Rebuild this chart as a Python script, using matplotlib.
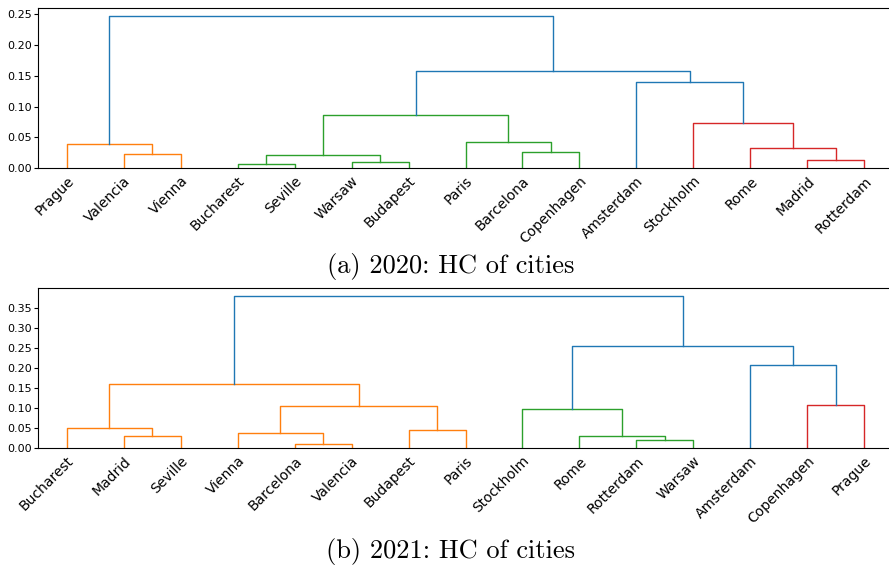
import matplotlib
matplotlib.use("Agg")
import matplotlib.pyplot as plt
from matplotlib.ticker import MultipleLocator, FormatStrFormatter

plt.rcParams["axes.formatter.use_mathtext"] = True

# 2020 clustering: leaves in plotted order, merges as linkage rows
# (child ids: leaf i, or n + k for the k-th merge)
cities_2020 = ["Prague", "Valencia", "Vienna", "Bucharest", "Seville",
               "Warsaw", "Budapest", "Paris", "Barcelona", "Copenhagen",
               "Amsterdam", "Stockholm", "Rome", "Madrid", "Rotterdam"]
left_2020 = [3, 5, 13, 15, 1, 8, 12, 0, 7, 11, 18, 10, 25, 22]
right_2020 = [4, 6, 14, 16, 2, 9, 17, 19, 20, 21, 23, 24, 26, 27]
height_2020 = [0.0069, 0.0097, 0.0139, 0.0215, 0.0236, 0.0258, 0.0327,
               0.0397, 0.0419, 0.0726, 0.0860, 0.1390, 0.1580, 0.2467]

# 2021 clustering
cities_2021 = ["Bucharest", "Madrid", "Seville", "Vienna", "Barcelona",
               "Valencia", "Budapest", "Paris", "Stockholm", "Rome",
               "Rotterdam", "Warsaw", "Amsterdam", "Copenhagen", "Prague"]
left_2021 = [4, 10, 1, 9, 3, 6, 0, 8, 19, 13, 21, 12, 22, 25]
right_2021 = [5, 11, 2, 16, 15, 7, 17, 18, 20, 14, 23, 24, 26, 27]
height_2021 = [0.0100, 0.0199, 0.0299, 0.0299, 0.0373, 0.0464, 0.0506,
               0.0995, 0.1053, 0.1086, 0.1600, 0.2090, 0.2554, 0.3806]

CLUSTER_COLORS = ["C1", "C2", "C3", "C4", "C5", "C6", "C7", "C8", "C9"]


def draw_dendrogram(ax, labels, left, right, height, threshold):
    n = len(labels)
    xpos = {i: 5.0 + 10.0 * i for i in range(n)}
    hpos = {i: 0.0 for i in range(n)}
    children = {}
    for k, (a, b, h) in enumerate(zip(left, right, height)):
        node = n + k
        children[node] = (a, b)
        xpos[node] = (xpos[a] + xpos[b]) / 2.0
        hpos[node] = h

    # colour links below the threshold by cluster, left to right
    colors = {}
    counter = [0]

    def paint(node, color):
        if node < n:
            return
        colors[node] = color
        for c in children[node]:
            paint(c, color)

    def walk(node):
        if node < n:
            return
        if hpos[node] < threshold:
            paint(node, CLUSTER_COLORS[counter[0] % len(CLUSTER_COLORS)])
            counter[0] += 1
        else:
            colors[node] = "C0"
            for c in children[node]:
                walk(c)

    root = n + len(height) - 1
    walk(root)

    for node, (a, b) in children.items():
        ax.plot([xpos[a], xpos[a], xpos[b], xpos[b]],
                [hpos[a], hpos[node], hpos[node], hpos[b]],
                color=colors[node], lw=1.0)

    ax.set_xlim(0, 10 * n)
    ax.set_ylim(0, 1.05 * max(height))
    ax.set_xticks([xpos[i] for i in range(n)])
    ax.set_xticklabels(labels, rotation=45, ha="right",
                       rotation_mode="anchor", fontsize=10)
    ax.tick_params(axis="x", length=0, pad=4)
    ax.yaxis.set_major_locator(MultipleLocator(0.05))
    ax.yaxis.set_major_formatter(FormatStrFormatter("%.2f"))
    ax.tick_params(axis="y", labelsize=8, length=2.8, pad=1.5)


fig = plt.figure(figsize=(8.89, 5.66), dpi=100)
ax_a = fig.add_axes([0.0430, 0.7026, 0.9613, 0.2827])
ax_b = fig.add_axes([0.0430, 0.2078, 0.9613, 0.2829])

draw_dendrogram(ax_a, cities_2020, left_2020, right_2020, height_2020, 0.12)
draw_dendrogram(ax_b, cities_2021, left_2021, right_2021, height_2021, 0.18)

fig.text(0.507, 0.5171, "(a) 2020: HC of cities", family="cmr10",
         fontsize=19, ha="center", va="baseline")
fig.text(0.507, 0.0147, "(b) 2021: HC of cities", family="cmr10",
         fontsize=19, ha="center", va="baseline")

fig.savefig("out.png", dpi=100)
